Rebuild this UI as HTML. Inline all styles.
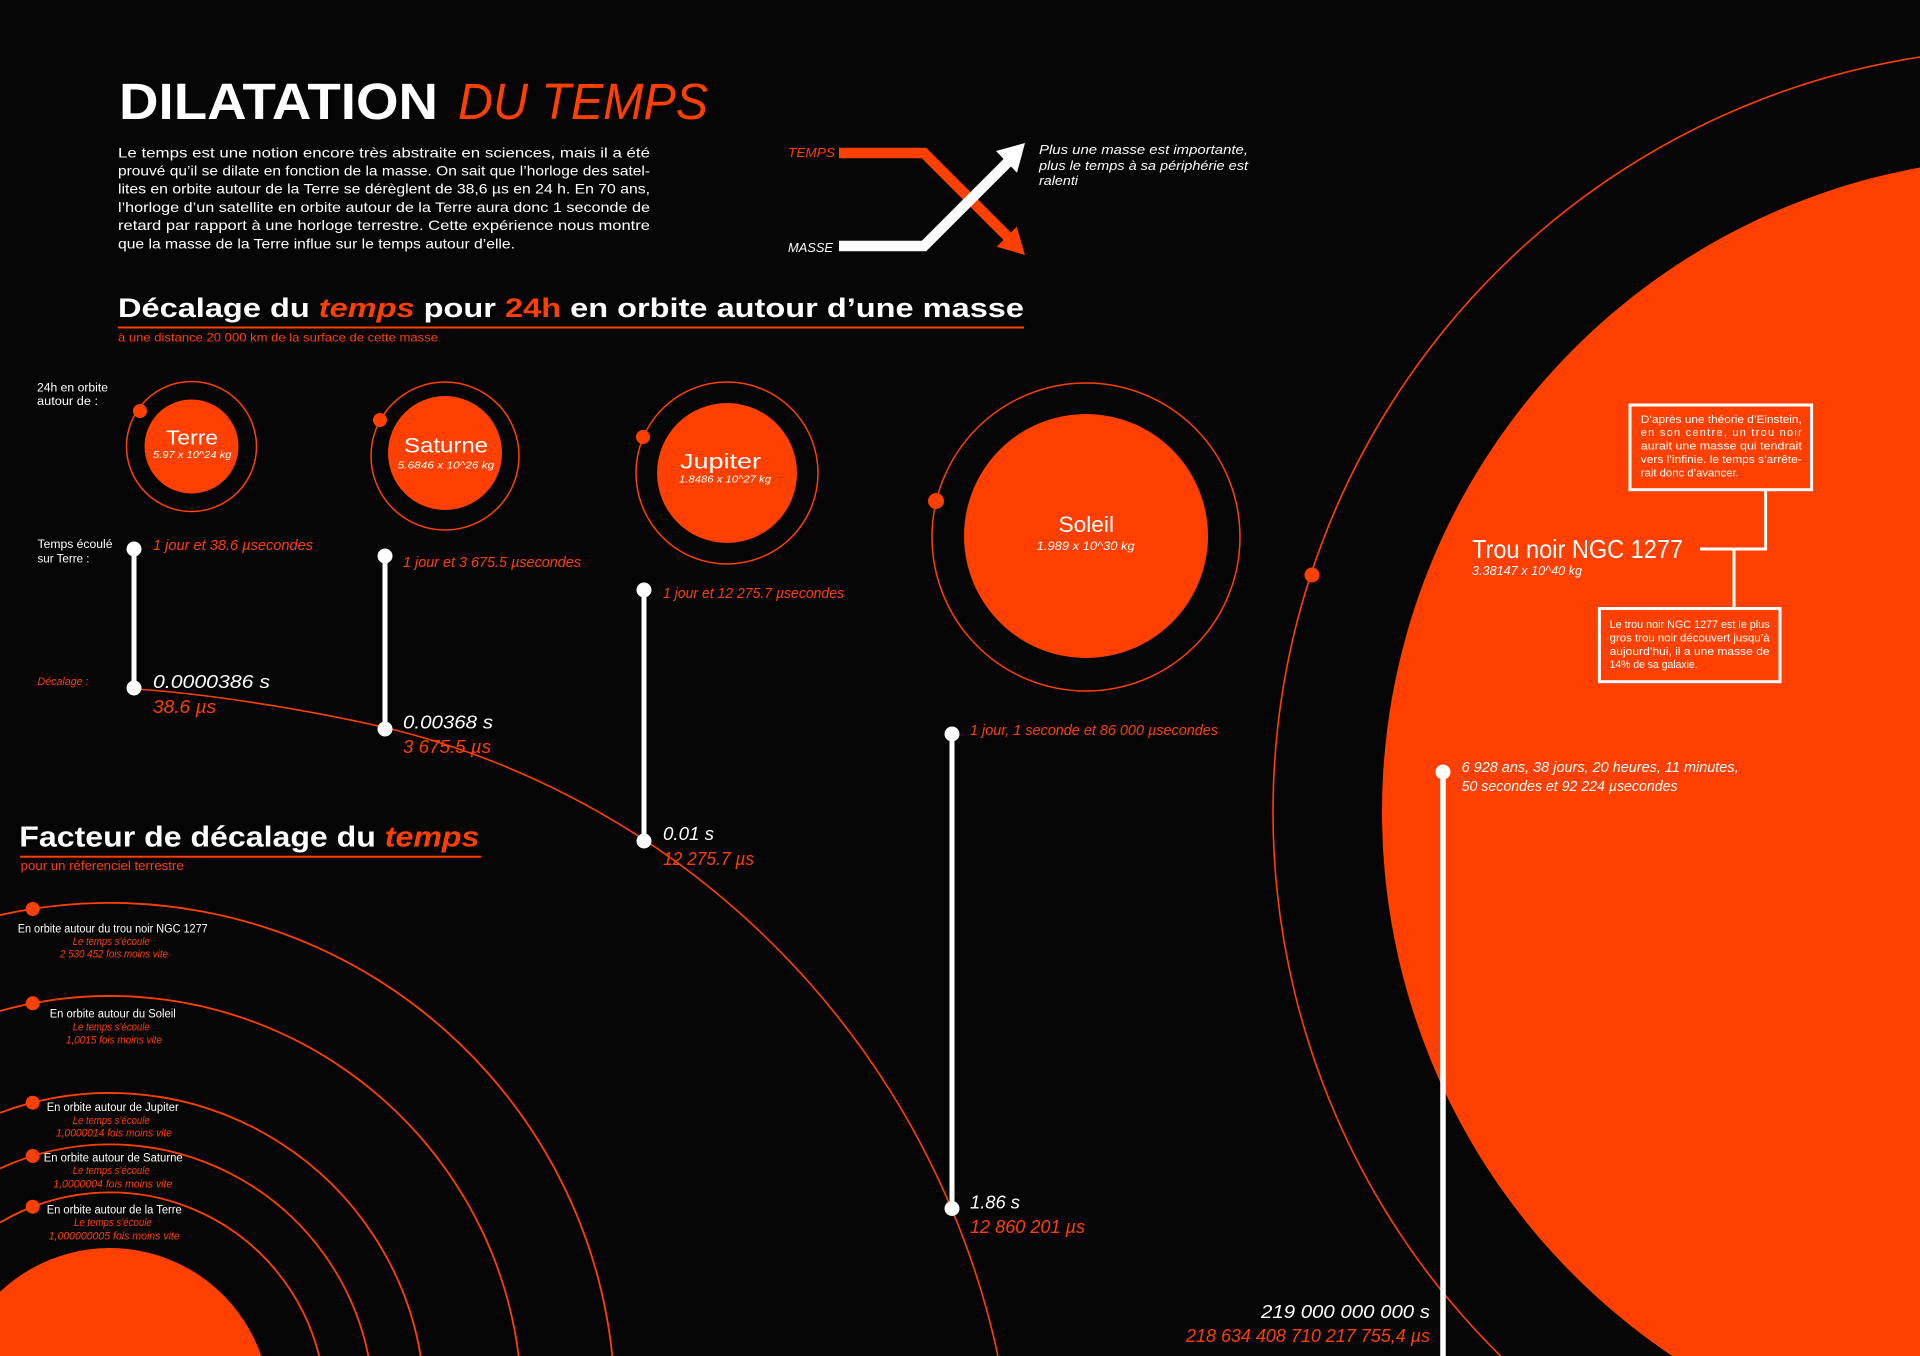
<!DOCTYPE html>
<html>
<head>
<meta charset="utf-8">
<style>
html,body{margin:0;padding:0;background:#050505;width:1920px;height:1356px;overflow:hidden;}
svg{display:block;position:absolute;left:0;top:0;}
text{font-family:"Liberation Sans",sans-serif;}
.w{fill:#ffffff;}
.o{fill:#ff4000;}
.i{font-style:italic;}
.b{font-weight:bold;}
</style>
</head>
<body>
<svg width="1920" height="1356" viewBox="0 0 1920 1356" xmlns="http://www.w3.org/2000/svg">
<rect width="1920" height="1356" fill="#050505"/>

<!-- Lower-left concentric orbits (clipped to frame) -->
<g fill="none" stroke="#ff4000" stroke-width="1.8">
  <path d="M0,915.1 A505,505 0 0 1 612.3,1356"/>
  <path d="M0,1010.95 A412,412 0 0 1 518.7,1356"/>
  <path d="M0,1112.8 A315,315 0 0 1 420.7,1356"/>
  <path d="M0,1168.45 A263.6,263.6 0 0 1 368.4,1356"/>
  <path d="M0,1222.6 A215.6,215.6 0 0 1 319.2,1356"/>
</g>
<path d="M0,1291.8 A160,160 0 0 1 261.3,1356 L0,1356 Z" fill="#ff4000"/>
<g fill="#ff4000">
  <circle cx="32.7" cy="909" r="7"/>
  <circle cx="32.7" cy="1003.3" r="7"/>
  <circle cx="32.7" cy="1102.7" r="7"/>
  <circle cx="32.7" cy="1156" r="7"/>
  <circle cx="32.7" cy="1206.7" r="7"/>
</g>

<!-- Right black hole (clipped to frame) -->
<path d="M1920,57 A764,764 0 0 0 1500.6,1356" fill="none" stroke="#ff4000" stroke-width="1.6"/>
<path d="M1920,167.5 A655,655 0 0 0 1672.2,1356 L1920,1356 Z" fill="#ff4000"/>
<circle cx="1312" cy="575" r="7.5" fill="#ff4000"/>

<!-- Decalage curve -->
<path d="M135,689 C200,693 300,708 385,727.5 A825,825 0 0 1 998,1356" fill="none" stroke="#ff4000" stroke-width="1.6"/>

<!-- Planets -->
<g fill="none" stroke="#ff4000" stroke-width="1.5">
  <circle cx="191.5" cy="446.5" r="65"/>
  <circle cx="445" cy="456" r="74"/>
  <circle cx="727" cy="473" r="91"/>
  <circle cx="1086" cy="537" r="154"/>
</g>
<g fill="#ff4000">
  <circle cx="191.5" cy="446.5" r="47"/>
  <circle cx="140" cy="411" r="7"/>
  <circle cx="445" cy="453" r="57"/>
  <circle cx="380" cy="420" r="7"/>
  <circle cx="727" cy="473" r="70"/>
  <circle cx="643" cy="437" r="7"/>
  <circle cx="1086" cy="536" r="122"/>
  <circle cx="936" cy="501" r="8"/>
</g>

<!-- Title -->
<text x="119" y="119" font-size="51" class="w b" textLength="319" lengthAdjust="spacingAndGlyphs">DILATATION</text>
<text x="458" y="119" font-size="51" class="o i" textLength="250" lengthAdjust="spacingAndGlyphs">DU TEMPS</text>

<!-- Intro paragraph -->
<g class="w" font-size="14">
  <text x="118" y="157.3" textLength="532" lengthAdjust="spacingAndGlyphs">Le temps est une notion encore très abstraite en sciences, mais il a été</text>
  <text x="118" y="175.3" textLength="532" lengthAdjust="spacingAndGlyphs">prouvé qu’il se dilate en fonction de la masse. On sait que l’horloge des satel-</text>
  <text x="118" y="193.7" textLength="532" lengthAdjust="spacingAndGlyphs">lites en orbite autour de la  Terre se dérèglent de 38,6 µs en 24 h. En 70 ans,</text>
  <text x="118" y="212" textLength="532" lengthAdjust="spacingAndGlyphs">l’horloge d’un satellite en orbite autour de la Terre aura donc 1 seconde de</text>
  <text x="118" y="230" textLength="532" lengthAdjust="spacingAndGlyphs">retard par rapport à une horloge terrestre. Cette expérience nous montre</text>
  <text x="118" y="248.3" textLength="397" lengthAdjust="spacingAndGlyphs">que la masse de la Terre influe sur le temps autour d’elle.</text>
</g>

<!-- Arrow diagram -->
<polyline points="839,153 924,153 1008,237" fill="none" stroke="#ff4000" stroke-width="10.5" stroke-linejoin="miter"/>
<polygon points="1025,255 996.7,246.7 1016.7,226.7" fill="#ff4000"/>
<polyline points="839,246 924,246 1008,162" fill="none" stroke="#ffffff" stroke-width="10.5" stroke-linejoin="miter"/>
<polygon points="1025,143 996,151 1017,172.7" fill="#ffffff"/>
<text x="788" y="157" font-size="12.5" class="o i" textLength="47" lengthAdjust="spacingAndGlyphs">TEMPS</text>
<text x="788" y="252" font-size="12.5" class="w i" textLength="45" lengthAdjust="spacingAndGlyphs">MASSE</text>
<g class="w i" font-size="13">
  <text x="1039" y="154" textLength="209" lengthAdjust="spacingAndGlyphs">Plus une masse est importante,</text>
  <text x="1039" y="170" textLength="209" lengthAdjust="spacingAndGlyphs">plus le temps à sa périphérie est</text>
  <text x="1039" y="185" textLength="39" lengthAdjust="spacingAndGlyphs">ralenti</text>
</g>

<!-- Section heading 1 -->
<text x="118" y="317" font-size="27" class="w b" textLength="906" lengthAdjust="spacingAndGlyphs">Décalage du <tspan class="o i">temps</tspan> pour <tspan class="o">24h</tspan> en orbite autour d’une masse</text>
<rect x="118" y="326.5" width="906" height="2" fill="#ff4000"/>
<text x="118" y="341.5" font-size="12" class="o" textLength="320" lengthAdjust="spacingAndGlyphs">à une distance 20 000 km de la surface de cette masse</text>

<text x="37" y="391.5" font-size="11.5" class="w" textLength="71" lengthAdjust="spacingAndGlyphs">24h en orbite</text>
<text x="37" y="405" font-size="11.5" class="w" textLength="61" lengthAdjust="spacingAndGlyphs">autour de :</text>

<!-- Planet labels -->
<text x="166" y="444.3" font-size="20" class="w" textLength="52" lengthAdjust="spacingAndGlyphs">Terre</text>
<text x="153" y="458" font-size="10.5" class="w i" textLength="78.5" lengthAdjust="spacingAndGlyphs">5.97 x 10^24 kg</text>
<text x="404" y="452.7" font-size="21" class="w" textLength="84" lengthAdjust="spacingAndGlyphs">Saturne</text>
<text x="397.7" y="468.3" font-size="10.5" class="w i" textLength="96.6" lengthAdjust="spacingAndGlyphs">5.6846 x 10^26 kg</text>
<text x="680" y="468.3" font-size="21" class="w" textLength="81" lengthAdjust="spacingAndGlyphs">Jupiter</text>
<text x="679" y="482.7" font-size="10.5" class="w i" textLength="92" lengthAdjust="spacingAndGlyphs">1.8486 x 10^27 kg</text>
<text x="1058.5" y="532" font-size="22" class="w" textLength="55.5" lengthAdjust="spacingAndGlyphs">Soleil</text>
<text x="1036.7" y="550" font-size="11.5" class="w i" textLength="98" lengthAdjust="spacingAndGlyphs">1.989 x 10^30 kg</text>

<!-- Timelines -->
<g stroke="#ffffff" stroke-width="5">
  <line x1="134" y1="549" x2="134" y2="688"/>
  <line x1="385" y1="556" x2="385" y2="729"/>
  <line x1="644" y1="590" x2="644" y2="841"/>
  <line x1="952" y1="734" x2="952" y2="1208.5"/>
  <line x1="1443" y1="772" x2="1443" y2="1356" stroke-width="5.5"/>
</g>
<g fill="#ffffff">
  <circle cx="134" cy="549" r="7.5"/>
  <circle cx="134" cy="688" r="7.5"/>
  <circle cx="385" cy="556" r="7.5"/>
  <circle cx="385" cy="729" r="7.5"/>
  <circle cx="644" cy="590" r="7.5"/>
  <circle cx="644" cy="841" r="7.5"/>
  <circle cx="952" cy="734" r="7.5"/>
  <circle cx="952" cy="1208.5" r="7.5"/>
  <circle cx="1443" cy="772" r="7.5"/>
</g>

<text x="37.5" y="548" font-size="11.5" class="w" textLength="75" lengthAdjust="spacingAndGlyphs">Temps écoulé</text>
<text x="37.5" y="562.7" font-size="11.5" class="w" textLength="52" lengthAdjust="spacingAndGlyphs">sur Terre :</text>
<text x="37.5" y="685" font-size="11" class="o i" textLength="51" lengthAdjust="spacingAndGlyphs">Décalage :</text>

<g class="o i" font-size="15">
  <text x="153" y="550" textLength="160" lengthAdjust="spacingAndGlyphs">1 jour  et 38.6 µsecondes</text>
  <text x="403" y="567" textLength="178" lengthAdjust="spacingAndGlyphs">1 jour  et 3 675.5 µsecondes</text>
  <text x="663" y="598" textLength="181" lengthAdjust="spacingAndGlyphs">1 jour  et 12 275.7 µsecondes</text>
  <text x="970" y="735" textLength="248" lengthAdjust="spacingAndGlyphs">1 jour, 1 seconde et 86 000 µsecondes</text>
</g>

<g font-size="18" class="i">
  <text x="153" y="688" class="w" textLength="117" lengthAdjust="spacingAndGlyphs">0.0000386 s</text>
  <text x="153" y="713" class="o" textLength="63" lengthAdjust="spacingAndGlyphs">38.6 µs</text>
  <text x="403" y="728.3" class="w" textLength="90" lengthAdjust="spacingAndGlyphs">0.00368 s</text>
  <text x="403" y="753" class="o" textLength="88" lengthAdjust="spacingAndGlyphs">3 675.5 µs</text>
  <text x="663" y="840" class="w" textLength="51" lengthAdjust="spacingAndGlyphs">0.01 s</text>
  <text x="663" y="865" class="o" textLength="91" lengthAdjust="spacingAndGlyphs">12 275.7 µs</text>
  <text x="970" y="1208.5" class="w" textLength="50" lengthAdjust="spacingAndGlyphs">1.86 s</text>
  <text x="970" y="1233" class="o" textLength="115" lengthAdjust="spacingAndGlyphs">12 860 201 µs</text>
  <text x="1261" y="1318" class="w" textLength="169" lengthAdjust="spacingAndGlyphs">219 000 000 000 s</text>
  <text x="1186" y="1342" class="o" textLength="244" lengthAdjust="spacingAndGlyphs">218 634 408 710 217 755,4 µs</text>
</g>

<text x="1461.6" y="772" font-size="14.5" class="w i" textLength="277" lengthAdjust="spacingAndGlyphs">6 928 ans, 38 jours, 20 heures, 11 minutes,</text>
<text x="1461.6" y="791" font-size="14.5" class="w i" textLength="216" lengthAdjust="spacingAndGlyphs">50 secondes et 92 224 µsecondes</text>

<!-- Black hole labels and boxes -->
<text x="1472" y="558" font-size="26" class="w" textLength="211" lengthAdjust="spacingAndGlyphs">Trou noir NGC 1277</text>
<text x="1472" y="575" font-size="13" class="w i" textLength="110" lengthAdjust="spacingAndGlyphs">3.38147 x 10^40 kg</text>
<polyline points="1700,549 1765.6,549 1765.6,489.7" fill="none" stroke="#ffffff" stroke-width="3"/>
<line x1="1734" y1="549" x2="1734" y2="608.5" stroke="#ffffff" stroke-width="3"/>
<rect x="1630" y="405" width="181.6" height="84.7" fill="none" stroke="#ffffff" stroke-width="3"/>
<rect x="1599.4" y="608.5" width="180.6" height="73.2" fill="none" stroke="#ffffff" stroke-width="3"/>
<g class="w" font-size="11">
  <text x="1640.8" y="422.8" textLength="161" lengthAdjust="spacingAndGlyphs">D’après une théorie d’Einstein,</text>
  <text x="1640.8" y="436" textLength="161" lengthAdjust="spacing">en son centre, un trou noir</text>
  <text x="1640.8" y="449.6" textLength="161" lengthAdjust="spacingAndGlyphs">aurait une masse qui tendrait</text>
  <text x="1640.8" y="463" textLength="161" lengthAdjust="spacingAndGlyphs">vers l’infinie. le temps s’arrête-</text>
  <text x="1640.8" y="476.3" textLength="98" lengthAdjust="spacingAndGlyphs">rait donc d’avancer.</text>
  <text x="1609.6" y="628" textLength="160" lengthAdjust="spacingAndGlyphs">Le trou noir NGC 1277 est le plus</text>
  <text x="1609.6" y="641.5" textLength="160" lengthAdjust="spacingAndGlyphs">gros trou noir découvert jusqu’à</text>
  <text x="1609.6" y="655" textLength="160" lengthAdjust="spacingAndGlyphs">aujourd’hui, il a une masse de</text>
  <text x="1609.6" y="668" textLength="88" lengthAdjust="spacingAndGlyphs">14% de sa galaxie.</text>
</g>

<!-- Section heading 2 -->
<text x="19.3" y="846.7" font-size="29" class="w b" textLength="460" lengthAdjust="spacingAndGlyphs">Facteur de décalage du <tspan class="o i">temps</tspan></text>
<rect x="20" y="855.7" width="461" height="2" fill="#ff4000"/>
<text x="20.7" y="870" font-size="12.5" class="o" textLength="163" lengthAdjust="spacingAndGlyphs">pour un réferenciel terrestre</text>

<!-- Orbit labels -->
<g font-size="11.5" class="w">
  <text x="17.7" y="932.3" textLength="190" lengthAdjust="spacingAndGlyphs">En orbite autour du trou noir NGC 1277</text>
  <text x="49.7" y="1017.7" textLength="126" lengthAdjust="spacingAndGlyphs">En orbite autour du Soleil</text>
  <text x="46.7" y="1111" textLength="132" lengthAdjust="spacingAndGlyphs">En orbite autour de Jupiter</text>
  <text x="43.7" y="1161.7" textLength="139" lengthAdjust="spacingAndGlyphs">En orbite autour de Saturne</text>
  <text x="46.7" y="1213.3" textLength="135" lengthAdjust="spacingAndGlyphs">En orbite autour de la Terre</text>
</g>
<g font-size="11" class="o i">
  <text x="72.7" y="945" textLength="77" lengthAdjust="spacingAndGlyphs">Le temps s’écoule</text>
  <text x="60" y="957.7" textLength="108" lengthAdjust="spacingAndGlyphs">2 530 452 fois moins vite</text>
  <text x="72.7" y="1030.7" textLength="77" lengthAdjust="spacingAndGlyphs">Le temps s’écoule</text>
  <text x="66" y="1043.3" textLength="96" lengthAdjust="spacingAndGlyphs">1,0015 fois moins vite</text>
  <text x="72.7" y="1124" textLength="77" lengthAdjust="spacingAndGlyphs">Le temps s’écoule</text>
  <text x="56" y="1136.7" textLength="116" lengthAdjust="spacingAndGlyphs">1,0000014 fois moins vite</text>
  <text x="72.7" y="1174" textLength="77" lengthAdjust="spacingAndGlyphs">Le temps s’écoule</text>
  <text x="53.3" y="1187.3" textLength="119" lengthAdjust="spacingAndGlyphs">1,0000004 fois moins vite</text>
  <text x="74" y="1226" textLength="77.7" lengthAdjust="spacingAndGlyphs">Le temps s’écoule</text>
  <text x="48.7" y="1239.3" textLength="131" lengthAdjust="spacingAndGlyphs">1,000000005 fois moins vite</text>
</g>
</svg>
</body>
</html>
